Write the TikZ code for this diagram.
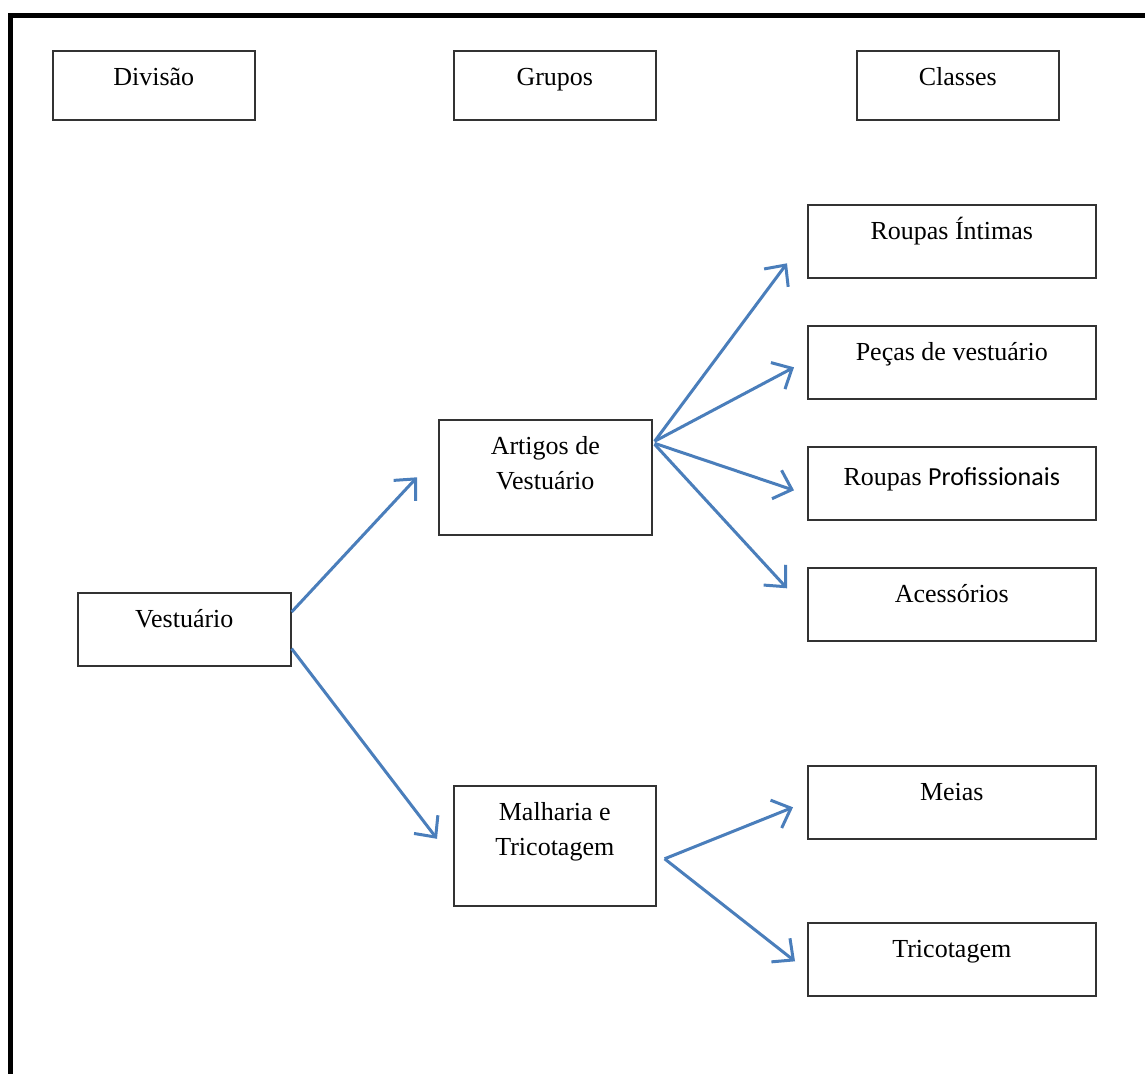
\documentclass[tikz,border=0pt]{standalone}
\usepackage{fontspec}
\setmainfont{Liberation Serif}
\newfontfamily\calibrifont{Carlito}
\usetikzlibrary{arrows.meta,calc}
\definecolor{arrowblue}{RGB}{74,126,187}
\tikzset{
  box/.style={draw=black!80, line width=1.6pt, rectangle, inner sep=0pt, anchor=north west},
  lbl/.style={anchor=base, inner sep=0pt, font=\fontsize{26}{30}\selectfont},
  conn/.style={draw=arrowblue, line width=3pt, -{Straight Barb[length=16pt,width=30pt,line width=3pt]}}
}
\begin{document}
\begin{tikzpicture}[x=1pt,y=-1pt]
\useasboundingbox (0,0) rectangle (1145,1073);
% frame
\draw[line width=5pt] (10,1080) -- (10,15.5) -- (1150,15.5);
% header boxes
\node[box, minimum width=202pt, minimum height=69pt] (div) at (52,50) {};
\node[box, minimum width=202pt, minimum height=69pt] (gru) at (453,50) {};
\node[box, minimum width=202pt, minimum height=69pt] (cla) at (856,50) {};
\node[lbl] at ($(div.north)+(0,35)$) {Divisão};
\node[lbl] at ($(gru.north)+(0,35)$) {Grupos};
\node[lbl] at ($(cla.north)+(0,35)$) {Classes};
% division
\node[box, minimum width=213pt, minimum height=73pt] (vest) at (77,592) {};
\node[lbl] at ($(vest.north)+(0,35)$) {Vestuário};
% groups
\node[box, minimum width=213pt, minimum height=115pt] (art) at (438,419) {};
\node[lbl] at ($(art.north)+(0,35)$) {Artigos de};
\node[lbl] at ($(art.north)+(0,70)$) {Vestuário};
\node[box, minimum width=202pt, minimum height=120pt] (mal) at (453,785) {};
\node[lbl] at ($(mal.north)+(0,35)$) {Malharia e};
\node[lbl] at ($(mal.north)+(0,70)$) {Tricotagem};
% classes
\node[box, minimum width=288pt, minimum height=73pt] (ri) at (807,204) {};
\node[lbl] at ($(ri.north)+(0,35)$) {Roupas Íntimas};
\node[box, minimum width=288pt, minimum height=73pt] (pv) at (807,325) {};
\node[lbl] at ($(pv.north)+(0,35)$) {Peças de vestuário};
\node[box, minimum width=288pt, minimum height=73pt] (rp) at (807,446) {};
\node[lbl] at ($(rp.north)+(0,39)$) {Roupas {\calibrifont Profissionais}};
\node[box, minimum width=288pt, minimum height=73pt] (ac) at (807,567) {};
\node[lbl] at ($(ac.north)+(0,35)$) {Acessórios};
\node[box, minimum width=288pt, minimum height=73pt] (mei) at (807,765) {};
\node[lbl] at ($(mei.north)+(0,35)$) {Meias};
\node[box, minimum width=288pt, minimum height=73pt] (tri) at (807,922) {};
\node[lbl] at ($(tri.north)+(0,35)$) {Tricotagem};
% connectors
\draw[conn] ($(vest.north east)+(0,20)$) -- ($(art.west)+(-21,0)$);
\draw[conn] ($(vest.south east)+(0,-18)$) -- ($(mal.west)+(-16,-7)$);
\draw[conn] ($(art.east)+(2,-36)$) -- ($(ri.west)+(-20,22)$);
\draw[conn] ($(art.east)+(2,-36)$) -- ($(pv.west)+(-13,5)$);
\draw[conn] ($(art.east)+(2,-34)$) -- ($(rp.west)+(-13,7)$);
\draw[conn] ($(art.east)+(2,-33)$) -- ($(ac.west)+(-20,-16)$);
\draw[conn] ($(mal.east)+(8,13)$) -- ($(mei.west)+(-14,5)$);
\draw[conn] ($(mal.east)+(8,13)$) -- ($(tri.west)+(-12,2)$);
\end{tikzpicture}
\end{document}
